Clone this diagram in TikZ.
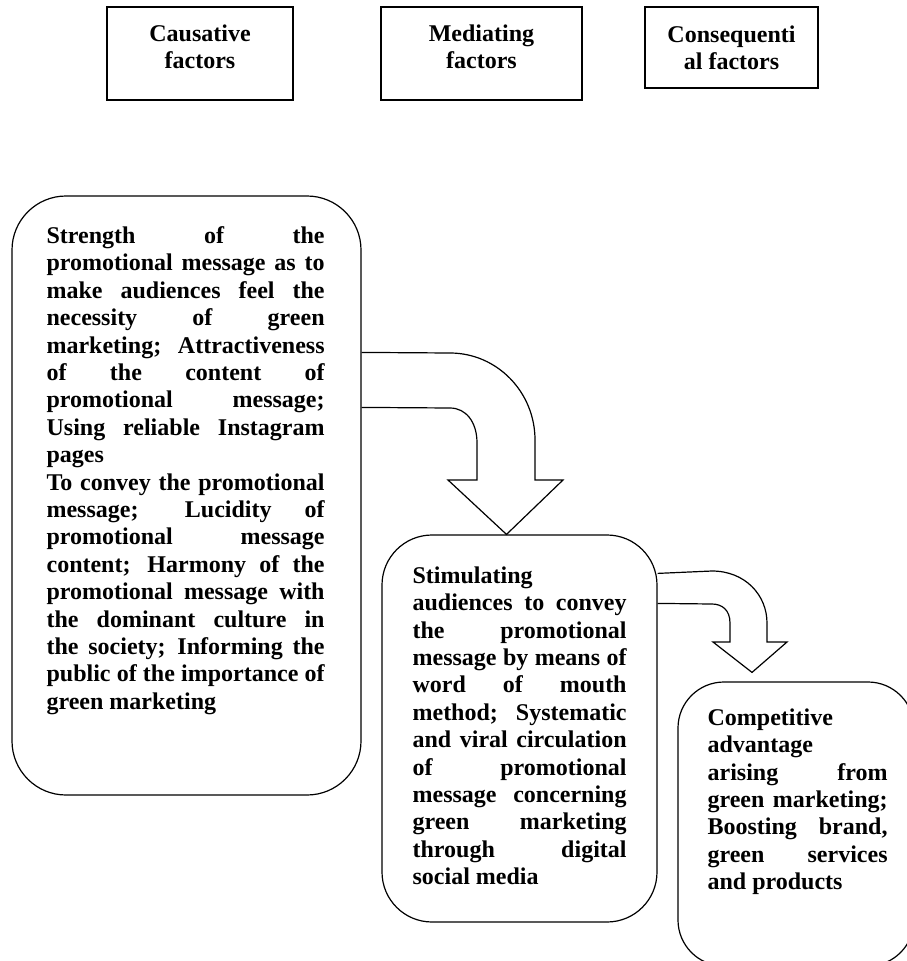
\documentclass[tikz,border=0pt]{standalone}
\usepackage{fontspec}
\setmainfont{Liberation Serif}
\newcommand{\jrow}[1]{\hbox to \hsize{\spaceskip=.25em plus 1fil\relax #1}}
\newcommand{\lrow}[1]{\hbox to \hsize{\spaceskip=.25em\relax #1\hfil}}
\begin{document}
\begin{tikzpicture}[x=1pt,y=-1pt,
  headbox/.style={draw,line width=1.6pt,align=center,inner sep=0pt,
    font=\fontsize{24}{27}\selectfont\bfseries},
  roundbox/.style={draw,line width=1.2pt,rounded corners=50pt,inner sep=0pt},
  bodytext/.style={anchor=north west,inner sep=0pt,
    font=\fontsize{24}{27.4}\selectfont\bfseries},
  blockarrow/.style={line width=1.2pt,line join=miter}]
\useasboundingbox (0,0) rectangle (907,961);
\clip (0,0) rectangle (907,961);

\node[headbox,minimum width=186pt,minimum height=93pt,text depth=13pt] (H1) at (200,53.5) {Causative\\factors};
\node[headbox,minimum width=201pt,minimum height=93pt,text depth=13pt] (H2) at (481.5,53.5) {Mediating\\factors};
\node[headbox,minimum width=173pt,minimum height=81pt,text depth=0pt] (H3) at (731.5,47.5) {Consequenti\\al factors};

\node[roundbox,rounded corners=54pt,minimum width=349pt,minimum height=599pt] (C1) at (186.5,495.5) {};
\node[roundbox,minimum width=275pt,minimum height=387pt] (C2) at (519.5,728.5) {};
\node[roundbox,rounded corners=46pt,minimum width=236pt,minimum height=284pt] (C3) at (796,824) {};

\node[bodytext,text width=278pt] (T1) at ([shift={+(35,31)}]C1.north west) {
\jrow{Strength of the}
\jrow{promotional message as to}
\jrow{make audiences feel the}
\jrow{necessity of green}
\jrow{marketing; Attractiveness}
\jrow{of the content of}
\jrow{promotional message;}
\jrow{Using reliable Instagram}
\lrow{pages}
\jrow{To convey the promotional}
\jrow{message; Lucidity of}
\jrow{promotional message}
\jrow{content; Harmony of the}
\jrow{promotional message with}
\jrow{the dominant culture in}
\jrow{the society; Informing the}
\jrow{public of the importance of}
\lrow{green marketing}
};
\node[bodytext,text width=214pt] (T2) at ([shift={+(31,32)}]C2.north west) {
\lrow{Stimulating}
\jrow{audiences to convey}
\jrow{the promotional}
\jrow{message by means of}
\jrow{word of mouth}
\jrow{method; Systematic}
\jrow{and viral circulation}
\jrow{of promotional}
\jrow{message concerning}
\jrow{green marketing}
\jrow{through digital}
\lrow{social media}
};
\node[bodytext,text width=180pt] (T3) at ([shift={+(30,27)}]C3.north west) {
\lrow{Competitive}
\lrow{advantage}
\jrow{arising from}
\jrow{green marketing;}
\jrow{Boosting brand,}
\jrow{green services}
\lrow{and products}
};

% arrow from causative to mediating box
\coordinate (A1top) at ([shift={+(0,157)}]C1.north east);
\coordinate (A1bot) at ([shift={+(0,212)}]C1.north east);
\coordinate (tip1) at ([shift={+(-13,0)}]C2.north);
\draw[blockarrow] (A1top) -- (450,353) .. controls (497,353) and (535,392) .. (535,440)
  -- (535,480) -- (563,480) -- (tip1) -- (448,480) -- (477,480) -- (477,443)
  .. controls (477,422) and (466,408) .. (450,408) -- (A1bot);

% arrow from mediating to consequential box
\coordinate (A2top) at ([shift={+(0,39)}]C2.north east);
\coordinate (A2bot) at ([shift={+(0,69)}]C2.north east);
\coordinate (tip2) at ([shift={+(-44,-9)}]C3.north);
\draw[blockarrow] (A2top) -- (712,571) .. controls (745,571) and (767,595) .. (767,623)
  -- (767,642) -- (787,642) -- (tip2) -- (713,642) -- (730,642) -- (730,623)
  .. controls (730,610) and (722,604) .. (712,604) -- (A2bot);
\end{tikzpicture}
\end{document}
